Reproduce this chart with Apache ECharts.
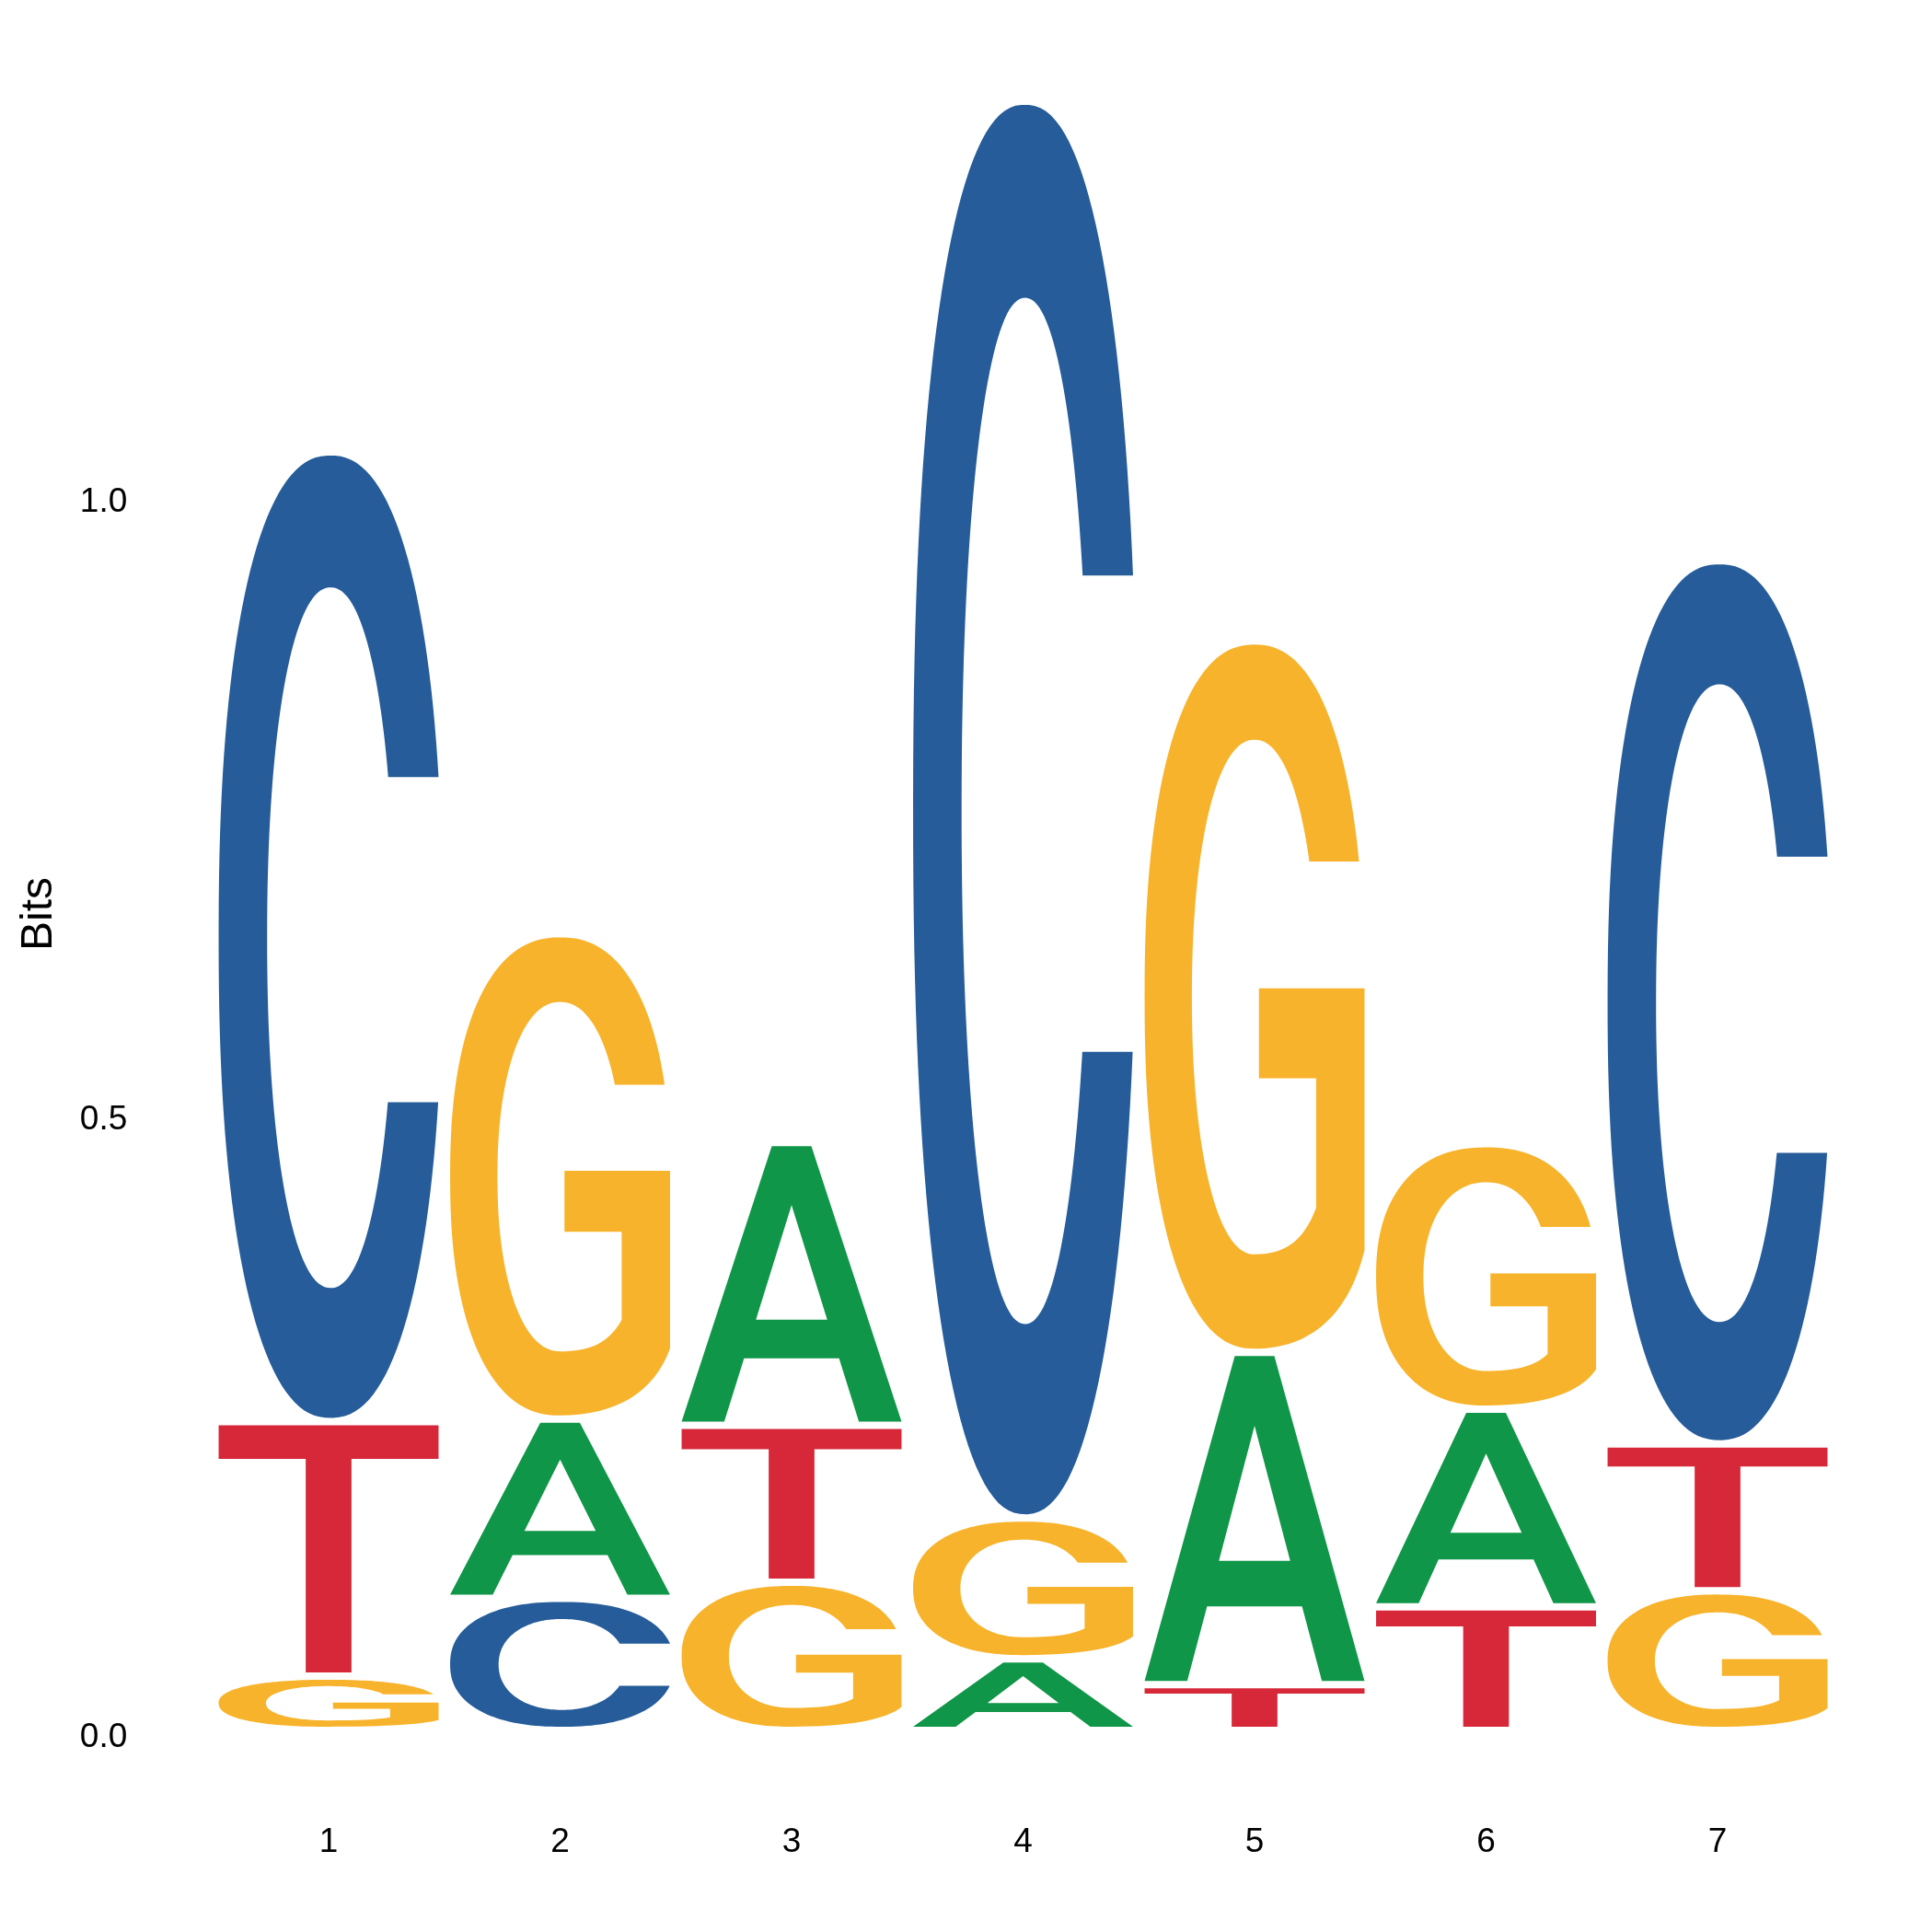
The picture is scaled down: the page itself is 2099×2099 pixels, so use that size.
<!DOCTYPE html>
<html>
<head>
<meta charset="utf-8">
<script src="https://cdn.jsdelivr.net/npm/echarts@6/dist/echarts.min.js"></script>
<style>
  html, body { margin: 0; padding: 0; background: #fff; }
  #main { width: 2099px; height: 2099px; }
</style>
</head>
<body>
<div id="main"></div>
<script>
// sequence logo, information content per letter (bits)
var positions = ['1', '2', '3', '4', '5', '6', '7'];
var bitsA = [0, 0.145, 0.229, 0.058, 0.269, 0.160, 0];
var bitsC = [0.785, 0.107, 0, 1.147, 0, 0, 0.715];
var bitsG = [0.044, 0.393, 0.120, 0.114, 0.576, 0.215, 0.113];
var bitsT = [0.206, 0, 0.127, 0, 0.037, 0.100, 0.119];
var yTicks = [0, 0.5, 1.0];

var letterColors = { A: '#109648', C: '#255C99', G: '#F7B32B', T: '#D62839' };

// --- glyph outlines (100x100 box), round parts drawn as superellipses ---
function sePt(cx, cy, a, b, n, t) {
  var c = Math.cos(t), s = Math.sin(t);
  return [cx + a * Math.sign(c) * Math.pow(Math.abs(c), 2 / n),
          cy + b * Math.sign(s) * Math.pow(Math.abs(s), 2 / n)];
}
function seT(b, n, dy) {
  return Math.asin(Math.pow(Math.min(1, Math.abs(dy) / b), n / 2));
}
function arc(cx, cy, a, b, n, t0, t1, steps) {
  var out = [];
  for (var k = 0; k <= steps; k++) {
    var p = sePt(cx, cy, a, b, n, t0 + (t1 - t0) * k / steps);
    out.push(p[0].toFixed(2) + ' ' + p[1].toFixed(2));
  }
  return out;
}
var nO = 2.3, nI = 2.15;

function buildC() {
  var outer = arc(50, 50, 50, 50, nO, -seT(50, nO, 16.6), seT(50, nO, 17.2) - 2 * Math.PI, 140);
  var inner = arc(50, 50.1, 28.35, 36.4, nI, seT(36.4, nI, 17.1), 2 * Math.PI - seT(36.4, nI, 16.7), 140);
  return 'M' + outer.join(' L') + ' L' + inner.join(' L') + ' Z';
}
function buildG() {
  var outer = arc(50, 50, 50, 50, nO, -seT(50, nO, 19.2), -1.5 * Math.PI, 120);
  var inner = arc(50, 50.05, 28.5, 36.55, nI, 0.5 * Math.PI, 2 * Math.PI - seT(36.55, nI, 19.25), 120);
  return 'M' + outer.join(' L') +
    ' C76 100 93 95 100 86 L100 48.8 L52 48.8 L52 61.6 L78 61.6 L78 80 C72 85 63 86.6 50 86.6' +
    ' L' + inner.join(' L') + ' Z';
}

var glyphs = {
  A: 'M0 100 L41 0 L59 0 L100 100 L80.6 100 L71.6 77 L28.4 77 L19.4 100 Z M50 21.4 L33.8 63 L66.2 63 Z',
  C: buildC(),
  G: buildG(),
  T: 'M0 0 L100 0 L100 13.6 L60.4 13.6 L60.4 100 L39.6 100 L39.6 13.6 L0 13.6 Z'
};

// stack letters smallest at bottom
var cells = [];
positions.forEach(function (p, i) {
  var col = [['A', bitsA[i]], ['C', bitsC[i]], ['G', bitsG[i]], ['T', bitsT[i]]]
    .filter(function (d) { return d[1] > 0; })
    .sort(function (a, b) { return a[1] - b[1]; });
  var base = 0;
  col.forEach(function (d) {
    cells.push([i, base, base + d[1], d[0]]);
    base += d[1];
  });
});

var chart = echarts.init(document.getElementById('main'));

var option = {
  animation: false,
  backgroundColor: '#ffffff',
  grid: { left: 231.25, right: 107.25, top: 68.3, bottom: 219 },
  xAxis: {
    type: 'category',
    data: positions,
    axisLine: { show: false },
    axisTick: { show: false },
    splitLine: { show: false },
    axisLabel: { margin: 103, fontSize: 37, color: '#000', fontFamily: 'Liberation Sans' }
  },
  yAxis: {
    type: 'value',
    min: 0,
    max: 1.35,
    interval: 0.5,
    axisLine: { show: false },
    axisTick: { show: false },
    splitLine: { show: false },
    axisLabel: {
      margin: 93,
      fontSize: 37,
      color: '#000',
      fontFamily: 'Liberation Sans',
      verticalAlign: 'top',
      lineHeight: 16,
      formatter: function (v) {
        return yTicks.some(function (t) { return Math.abs(t - v) < 1e-6; }) ? v.toFixed(1) : '';
      }
    }
  },
  graphic: [{
    type: 'text',
    x: 43,
    y: 993,
    rotation: Math.PI / 2,
    style: {
      text: 'Bits',
      fill: '#000',
      font: '48px "Liberation Sans"',
      align: 'center',
      verticalAlign: 'middle'
    }
  }],
  series: [{
    type: 'custom',
    data: cells,
    encode: { x: 0, y: [1, 2] },
    renderItem: function (params, api) {
      var idx = api.value(0);
      var y0 = api.value(1);
      var y1 = api.value(2);
      var letter = cells[params.dataIndex][3];
      var band = api.size([1, 0])[0];
      var w = band * 0.95;
      var top = api.coord([idx, y1]);
      var bot = api.coord([idx, y0]);
      var inset = 4;
      return {
        type: 'path',
        shape: {
          pathData: glyphs[letter],
          x: top[0] - w / 2,
          y: top[1] + inset,
          width: w,
          height: Math.max(1, bot[1] - top[1] - 2 * inset),
          layout: 'cover'
        },
        style: { fill: letterColors[letter] }
      };
    }
  }]
};

chart.setOption(option);
</script>
</body>
</html>
